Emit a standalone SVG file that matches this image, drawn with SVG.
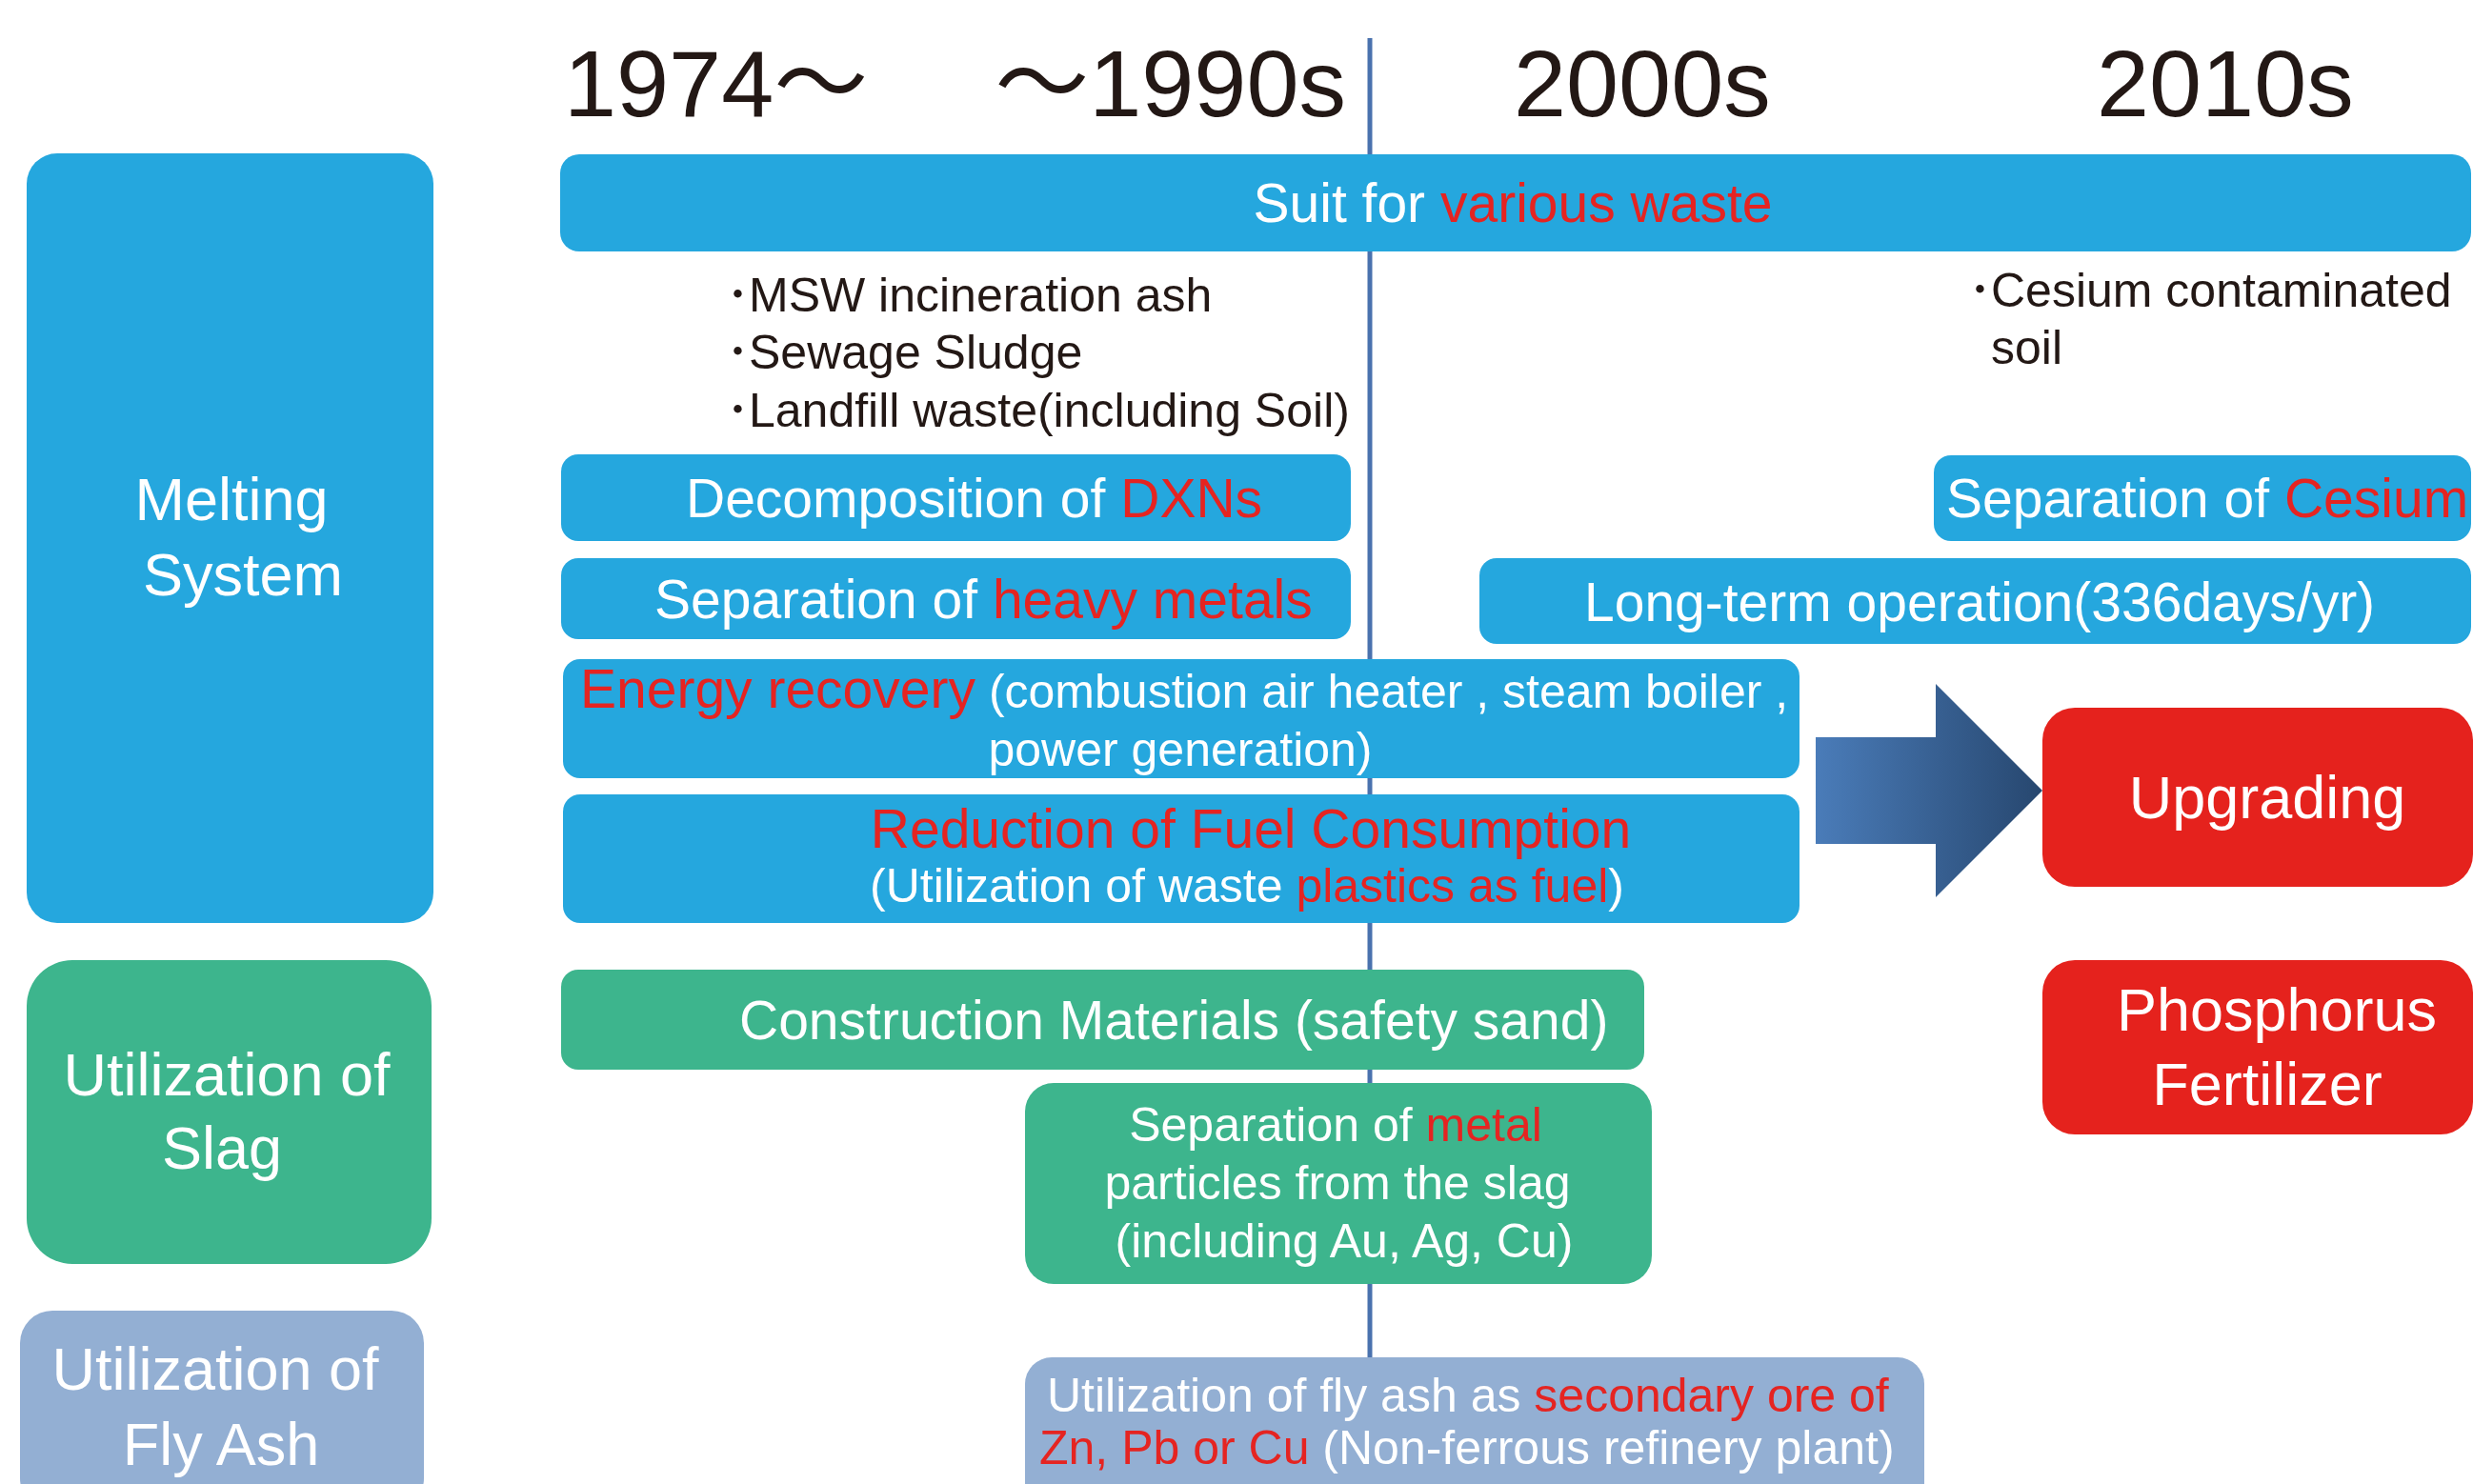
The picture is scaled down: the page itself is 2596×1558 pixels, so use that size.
<svg xmlns="http://www.w3.org/2000/svg" width="2596" height="1558" viewBox="0 0 2596 1558">
<style>
text{font-family:"Liberation Sans",Arial,"Noto Sans CJK JP",sans-serif}
.blue{fill:#25a7de}
.green{fill:#3db58d}
.gray{fill:#93afd3}
.red{fill:#e5221d}
.w{fill:#ffffff}
.r{fill:#e52421}
.k{fill:#231815}
.hdr{font-size:99px;fill:#231815}
.t57{font-size:57px}
.t50{font-size:50px}
.t63{font-size:63px}
</style>
<defs>
<linearGradient id="ag" x1="0" y1="0" x2="1" y2="0">
<stop offset="0" stop-color="#4a7cb9"/>
<stop offset="1" stop-color="#27476f"/>
</linearGradient>
</defs>
<rect width="2596" height="1558" fill="#ffffff"/>
<g id="connectors">
<line x1="1438" y1="40" x2="1438" y2="1430" stroke="#4a72ae" stroke-width="5"/>
<polygon points="1906,774 2032,774 2032,718 2144,830 2032,942 2032,886 1906,886" fill="url(#ag)"/>
</g>
<g id="headers">
<text class="hdr" x="592" y="122">1974～</text>
<text class="hdr" x="1413" y="122" text-anchor="end">～1990s</text>
<text class="hdr" x="1589" y="122">2000s</text>
<text class="hdr" x="2201" y="122">2010s</text>
</g>
<g id="melting-system">
<rect class="blue" x="28" y="161" width="427" height="808" rx="32"/>
<text class="t63 w" x="243" y="546" text-anchor="middle">Melting</text>
<text class="t63 w" x="255" y="625" text-anchor="middle">System</text>
</g>
<g id="utilization-slag">
<rect class="green" x="28" y="1008" width="425" height="319" rx="48"/>
<text class="t63 w" x="238" y="1150" text-anchor="middle">Utilization of</text>
<text class="t63 w" x="233" y="1227" text-anchor="middle">Slag</text>
</g>
<g id="utilization-flyash">
<rect class="gray" x="21" y="1376" width="424" height="210" rx="34"/>
<text class="t63 w" x="226" y="1459" text-anchor="middle">Utilization of</text>
<text class="t63 w" x="232" y="1538" text-anchor="middle">Fly Ash</text>
</g>
<g id="suit-various-waste">
<rect class="blue" x="588" y="162" width="2006" height="102" rx="20"/>
<text class="t57" x="1588" y="233" text-anchor="middle"><tspan class="w">Suit for </tspan><tspan class="r">various waste</tspan></text>
</g>
<g id="waste-list">
<text class="t50 k" x="762" y="327"><tspan>･</tspan><tspan x="786">MSW incineration ash</tspan></text>
<text class="t50 k" x="762" y="387"><tspan>･</tspan><tspan x="786">Sewage Sludge</tspan></text>
<text class="t50 k" x="762" y="448"><tspan>･</tspan><tspan x="786">Landfill waste(including Soil)</tspan></text>
</g>
<g id="cesium-soil">
<text class="t50 k" x="2066" y="322"><tspan>･</tspan><tspan x="2090">Cesium contaminated</tspan></text>
<text class="t50 k" x="2090" y="382">soil</text>
</g>
<g id="decomposition-dxns">
<rect class="blue" x="589" y="477" width="829" height="91" rx="18"/>
<text class="t57" x="720" y="543"><tspan class="w">Decomposition of </tspan><tspan class="r">DXNs</tspan></text>
</g>
<g id="separation-heavy-metals">
<rect class="blue" x="589" y="586" width="829" height="85" rx="18"/>
<text class="t57" x="687" y="649"><tspan class="w">Separation of </tspan><tspan class="r">heavy metals</tspan></text>
</g>
<g id="separation-cesium">
<rect class="blue" x="2030" y="478" width="564" height="90" rx="18"/>
<text class="t57" x="2043" y="543"><tspan class="w">Separation of </tspan><tspan class="r">Cesium</tspan></text>
</g>
<g id="long-term-operation">
<rect class="blue" x="1553" y="586" width="1041" height="90" rx="18"/>
<text class="t57 w" x="1663" y="652">Long-term operation(336days/yr)</text>
</g>
<g id="energy-recovery">
<rect class="blue" x="591" y="692" width="1298" height="125" rx="18"/>
<text x="609" y="743"><tspan class="t57 r">Energy recovery</tspan><tspan class="t50 w"> (combustion air heater , steam boiler ,</tspan></text>
<text class="t50 w" x="1239" y="804" text-anchor="middle">power generation)</text>
</g>
<g id="reduction-fuel">
<rect class="blue" x="591" y="834" width="1298" height="135" rx="18"/>
<text class="t57 r" x="1313" y="890" text-anchor="middle">Reduction of Fuel Consumption</text>
<text class="t50" x="1309" y="947" text-anchor="middle"><tspan class="w">(Utilization of waste </tspan><tspan class="r">plastics as fuel</tspan><tspan class="w">)</tspan></text>
</g>
<g id="upgrading">
<rect class="red" x="2144" y="743" width="452" height="188" rx="34"/>
<text class="t63 w" x="2380" y="859" text-anchor="middle">Upgrading</text>
</g>
<g id="phosphorus-fertilizer">
<rect class="red" x="2144" y="1008" width="452" height="183" rx="34"/>
<text class="t63 w" x="2390" y="1082" text-anchor="middle">Phosphorus</text>
<text class="t63 w" x="2380" y="1160" text-anchor="middle">Fertilizer</text>
</g>
<g id="construction-materials">
<rect class="green" x="589" y="1018" width="1137" height="105" rx="18"/>
<text class="t57 w" x="776" y="1091">Construction Materials (safety sand)</text>
</g>
<g id="separation-metal-particles">
<rect class="green" x="1076" y="1137" width="658" height="211" rx="30"/>
<text class="t50" x="1402" y="1198" text-anchor="middle"><tspan class="w">Separation of </tspan><tspan class="r">metal</tspan></text>
<text class="t50 w" x="1404" y="1259" text-anchor="middle">particles from the slag</text>
<text class="t50 w" x="1411" y="1320" text-anchor="middle">(including Au, Ag, Cu)</text>
</g>
<g id="fly-ash-secondary-ore">
<rect class="gray" x="1076" y="1425" width="944" height="160" rx="28"/>
<text class="t50" x="1099" y="1482"><tspan class="w">Utilization of fly ash as </tspan><tspan class="r">secondary ore of</tspan></text>
<text class="t50" x="1091" y="1537"><tspan class="r">Zn, Pb or Cu</tspan><tspan class="w"> (Non-ferrous refinery plant)</tspan></text>
</g>
</svg>
